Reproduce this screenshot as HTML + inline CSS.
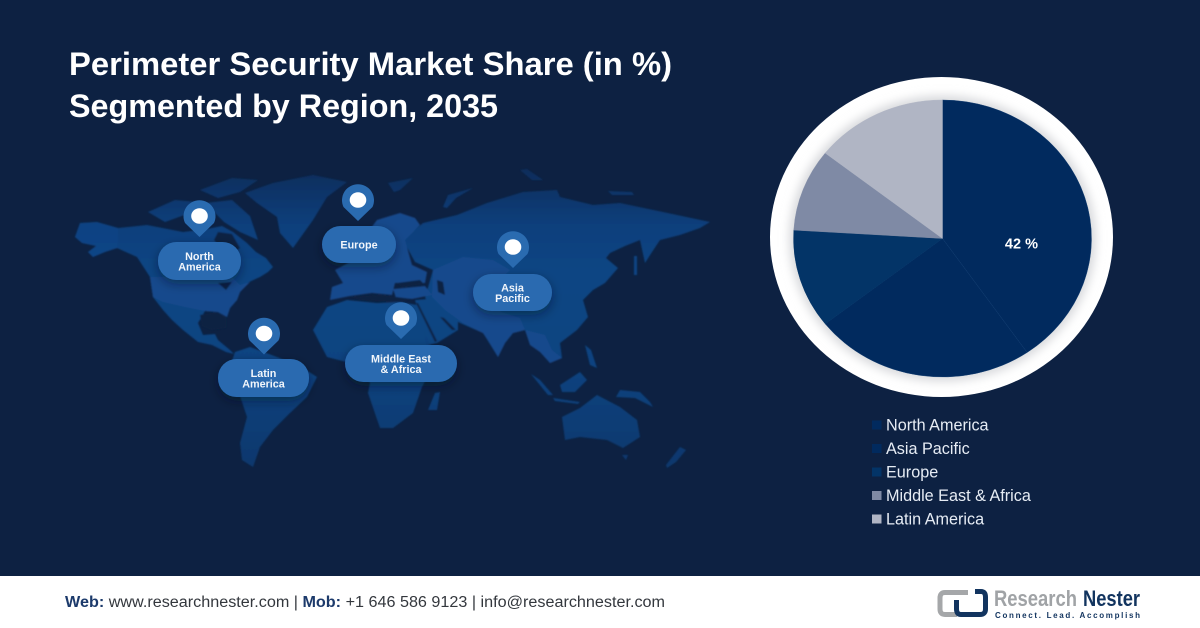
<!DOCTYPE html>
<html lang="en">
<head>
<meta charset="utf-8">
<title>Perimeter Security Market Share</title>
<style>
html,body{margin:0;padding:0;background:#0d2142;}
svg{display:block;font-family:"Liberation Sans",sans-serif;}
</style>
</head>
<body>
<svg id="root" width="1200" height="628" viewBox="0 0 1200 628" xmlns="http://www.w3.org/2000/svg">
<defs>
<linearGradient id="landA" gradientUnits="userSpaceOnUse" x1="0" y1="165" x2="0" y2="470">
<stop offset="0" stop-color="#0c2b58"/><stop offset="0.2" stop-color="#0c3f7c"/><stop offset="0.35" stop-color="#0b4583"/><stop offset="0.65" stop-color="#0b4380"/><stop offset="1" stop-color="#0c376c"/>
</linearGradient>
<filter id="soft" x="-5%" y="-5%" width="110%" height="110%"><feGaussianBlur stdDeviation="0.8"/></filter>
<filter id="shade" x="-20%" y="-20%" width="140%" height="140%"><feGaussianBlur stdDeviation="5"/></filter>
<filter id="pillShadow" x="-30%" y="-30%" width="160%" height="180%"><feDropShadow dx="0" dy="4" stdDeviation="5" flood-color="#071428" flood-opacity="0.45"/></filter>
</defs>

<rect width="1200" height="577" fill="#0d2142"/>

<g fill="#ffffff" font-weight="700" font-size="32">
<text x="69" y="75" textLength="603" lengthAdjust="spacingAndGlyphs">Perimeter Security Market Share (in %)</text>
<text x="69" y="117" textLength="429" lengthAdjust="spacingAndGlyphs">Segmented by Region, 2035</text>
</g>

<g filter="url(#soft)">
<g fill="url(#landA)">
<path d="M75 237 L80 223 L97 222 L118 228 L147 225 L183 232 L207 229 L222 226 L233 232 L247 243 L256 252 L266 258 L273 267 L268 272 L260 277 L247 283 L240 292 L237 300 L230 308 L227 317 L218 312 L205 311 L198 323 L203 335 L215 334 L218 340 L230 350 L234 354 L226 352 L212 345 L198 342 L183 330 L172 320 L163 310 L153 297 L150 277 L137 257 L117 248 L105 252 L93 257 L88 252 L96 246 L82 243 Z"/>
<path d="M245 193 L273 183 L313 175 L347 182 L327 197 L313 220 L293 248 L280 233 L277 217 L257 203 Z"/>
<path d="M200 190 L232 178 L258 180 L240 192 L218 198 Z"/>
<path d="M148 212 L175 200 L198 202 L190 213 L165 222 Z"/>
<path d="M205 203 L232 200 L250 216 L258 240 L240 232 L224 222 Z"/>
<path d="M235 352 L250 347 L277 357 L300 366 L317 377 L307 397 L290 413 L273 430 L260 447 L253 467 L242 460 L240 443 L247 417 L237 387 L230 367 Z"/>
<path d="M313 330 L327 307 L347 300 L377 303 L400 302 L417 305 L428 345 L445 350 L430 372 L422 387 L413 413 L393 428 L380 428 L368 393 L370 383 L358 365 L327 357 Z"/>
<path d="M428 410 L435 393 L440 392 L437 410 Z"/>
<path d="M415 300 L440 298 L458 318 L458 330 L437 343 L428 345 Z"/>
<path d="M403 240 L423 223 L457 215 L487 203 L523 192 L557 190 L560 197 L593 205 L620 203 L663 212 L710 222 L700 228 L680 235 L660 240 L652 252 L645 263 L640 240 L625 246 L610 253 L606 258 L618 268 L605 283 L593 290 L583 300 L588 317 L577 330 L560 343 L562 358 L550 363 L537 347 L525 330 L513 333 L505 343 L498 357 L483 333 L460 323 L440 310 L425 298 L433 270 L415 262 Z"/>
<path d="M562 417 L580 408 L597 395 L620 407 L637 420 L640 437 L623 448 L607 440 L580 437 L565 440 Z"/>
<path d="M634 256 L637 256 L637 275 L634 275 Z"/>
<path d="M585 345 L591 350 L597 368 L590 365 Z"/>
<path d="M560 385 L580 372 L587 380 L575 392 L562 392 Z"/>
<path d="M531 374 L540 380 L553 395 L548 395 Z"/>
<path d="M553 398 L580 402 L578 404 L555 401 Z"/>
<path d="M620 390 L640 392 L650 402 L653 407 L635 398 L616 397 Z"/>
<path d="M680 447 L686 450 L676 462 L667 468 L666 465 Z"/>
<path d="M622 455 L628 455 L626 460 Z"/>
<path d="M388 183 L413 178 L400 190 L394 192 Z"/>
<path d="M443 207 L448 195 L473 188 L456 198 L447 208 Z"/>
<path d="M520 170 L527 169 L543 180 L532 180 Z"/>
<path d="M608 191 L632 192 L634 195 L612 195 Z"/>
</g>
<g fill="#18488c">
<path d="M150 277 L232 277 L240 285 L250 282 L240 292 L237 300 L230 308 L227 317 L218 312 L205 311 L185 307 L163 302 L153 297 Z"/>
<path d="M75 237 L80 223 L97 222 L118 228 L118 248 L105 252 L93 257 L88 252 L96 246 L82 243 Z" opacity="0.45"/>
<path d="M330 300 L332 287 L343 283 L335 270 L350 262 L372 250 L362 240 L377 220 L400 213 L415 218 L420 225 L405 240 L412 265 L427 272 L425 283 L395 283 L392 295 L372 293 L350 296 Z"/>
<path d="M393 289 L425 286 L432 295 L412 299 L396 298 Z"/>
<path d="M433 270 L463 257 L493 260 L510 270 L495 285 L505 300 L495 325 L483 333 L463 323 L445 310 L432 297 Z"/>
<path d="M478 315 L495 310 L520 318 L525 330 L513 333 L505 343 L498 357 L488 340 L483 333 Z"/>
<path d="M525 330 L545 335 L552 350 L562 358 L550 363 L540 352 L530 345 Z"/>
</g>
<g fill="#0d2142">
<path d="M218 232 L232 234 L240 248 L232 254 L222 250 L214 240 Z"/>
<path d="M200 315 L218 312 L226 318 L226 328 L212 330 L202 326 Z"/>
<path d="M437 280 L443 282 L445 295 L438 292 Z"/>
<path d="M397 283 L420 280 L424 284 L402 287 Z"/>
<path d="M350 297 L380 295 L412 299 L400 302 L360 300 Z"/>
<path d="M416 303 L418 303 L437 341 L435 342 Z"/>
<path d="M440 317 L444 318 L456 330 L452 330 Z"/>
<path d="M218 283 L232 282 L226 290 Z"/>
</g>
</g>

<g id="markers"></g>

<g id="pie"></g>
<g id="legend"></g>

<g>
<rect y="576" width="1200" height="52" fill="#ffffff"/>
<text x="65" y="607" font-size="15.5" fill="#33373d" textLength="600" lengthAdjust="spacingAndGlyphs"><tspan font-weight="700" fill="#1c3a6b">Web:</tspan> www.researchnester.com | <tspan font-weight="700" fill="#1c3a6b">Mob:</tspan> +1 646 586 9123 | info@researchnester.com</text>
<g>
<path d="M968 592.5 L945 592.5 Q940 592.5 940 598 L940 609 Q940 614.5 945 614.5 L957 614.5" fill="none" stroke="#a5a7a9" stroke-width="5"/>
<path d="M975 591.5 L981 591.5 Q985.5 591.5 985.5 597 L985.5 609 Q985.5 614.5 980 614.5 L961 614.5 Q956.5 614.5 956.5 609 L956.5 600" fill="none" stroke="#12345f" stroke-width="5"/>
<text x="994" y="606" font-size="22" font-weight="700" fill="#a0a3a6" textLength="83" lengthAdjust="spacingAndGlyphs">Research</text>
<text x="1083" y="606" font-size="22" font-weight="700" fill="#12345f" textLength="57" lengthAdjust="spacingAndGlyphs">Nester</text>
<text x="995" y="618" font-size="8" font-weight="700" fill="#12345f" textLength="145">Connect. Lead. Accomplish</text>
</g>
</g>
</svg>

<script>
const regionCategories = ['North America', 'Asia Pacific', 'Europe', 'Middle East & Africa', 'Latin America'];
const shareValues = [42, 25, 12, 10, 15];
const printedShares = ['42 %', '', '', '', ''];
const sliceColors = ['#012a5e', '#012a5e', '#033467', '#7f8aa5', '#b0b5c4'];

const NS = 'http://www.w3.org/2000/svg';
function make(tag, parent) {
  const el = document.createElementNS(NS, tag);
  parent.appendChild(el);
  return el;
}

/* Pie axis functions: the slices are drawn on a slightly stretched ellipse */
const pieCx = 942.5, pieCy = 238.5, pieRx = 149, pieRy = 138.5;
const shareTotal = shareValues.reduce((a, b) => a + b, 0);
function angleOf(v) { return v / shareTotal * Math.PI * 2; }
function px(a, k) { return pieCx + pieRx * k * Math.sin(a); }
function py(a, k) { return pieCy - pieRy * k * Math.cos(a); }

const pie = document.getElementById('pie');

const ring = make('ellipse', pie);


ring.setAttribute('cx', 941.5);
ring.setAttribute('cy', 237);
ring.setAttribute('rx', 171.5);
ring.setAttribute('ry', 160);
ring.setAttribute('fill', '#ffffff');

const ringShade = make('ellipse', pie);


ringShade.setAttribute('cx', pieCx);
ringShade.setAttribute('cy', pieCy);
ringShade.setAttribute('rx', pieRx + 4);
ringShade.setAttribute('ry', pieRy + 4);
ringShade.setAttribute('fill', '#d6d7da');
ringShade.setAttribute('filter', 'url(#shade)');

let running = 0;
shareValues.forEach(function (v, i) {
  const a0 = angleOf(running);
  const a1 = angleOf(running + v);
  running += v;
  const large = a1 - a0 > Math.PI ? 1 : 0;
  const slice = make('path', pie);
  
  
  slice.setAttribute('d', 'M' + pieCx + ' ' + pieCy + ' L' + px(a0, 1) + ' ' + py(a0, 1) +
    ' A' + pieRx + ' ' + pieRy + ' 0 ' + large + ' 1 ' + px(a1, 1) + ' ' + py(a1, 1) + ' Z');
  slice.setAttribute('fill', sliceColors[i]);
  slice.setAttribute('stroke', i < 2 ? '#123d72' : sliceColors[i]);
  slice.setAttribute('stroke-width', '0.4');
  if (printedShares[i]) {
    const mid = (a0 + a1) / 2;
    const label = make('text', pie);
    
    
    label.setAttribute('x', px(mid, 0.555));
    label.setAttribute('y', pieCy + 10);
    label.setAttribute('text-anchor', 'middle');
    label.setAttribute('font-size', '14.5');
    label.setAttribute('font-weight', '700');
    label.setAttribute('fill', '#ffffff');
    label.textContent = printedShares[i];
  }
});

/* Legend */
const legend = document.getElementById('legend');
const legendTop = 425, legendStep = 23.5;
regionCategories.forEach(function (name, i) {
  const y = legendTop + i * legendStep;
  const sw = make('rect', legend);
  
  
  sw.setAttribute('x', 872);
  sw.setAttribute('y', y - 4.5);
  sw.setAttribute('width', 9.5);
  sw.setAttribute('height', 9);
  sw.setAttribute('fill', sliceColors[i]);
  const tx = make('text', legend);
  
  
  tx.setAttribute('x', 886);
  tx.setAttribute('y', y + 5.5);
  tx.setAttribute('font-size', '16.2');
  tx.setAttribute('fill', '#e6ecf4');
  tx.textContent = name;
});

/* Map markers */
const markerLines = [['North', 'America'], ['Europe'], ['Asia', 'Pacific'], ['Latin', 'America'], ['Middle East', '& Africa']];
const markerPinX = [199.5, 358, 513, 264, 401];
const markerPinY = [216, 200, 247, 333.5, 318];
const markerPillLeft = [158, 322, 473, 218, 345];
const markerPillRight = [241, 396, 552, 309, 457];
const markerPillTop = [242, 226, 274, 359, 345];
const markerPillBottom = [280, 263, 311, 397, 382];
const markers = document.getElementById('markers');

markerLines.forEach(function (lines, i) {
  const x = markerPinX[i], y = markerPinY[i];
  const pill = make('rect', markers);
  
  
  pill.setAttribute('x', markerPillLeft[i]);
  pill.setAttribute('y', markerPillTop[i]);
  pill.setAttribute('width', markerPillRight[i] - markerPillLeft[i]);
  pill.setAttribute('height', markerPillBottom[i] - markerPillTop[i]);
  pill.setAttribute('rx', 18.5);
  pill.setAttribute('fill', '#2a6bb0');
  pill.setAttribute('filter', 'url(#pillShadow)');

  const pin = make('path', markers);
  
  
  pin.setAttribute('d', 'M' + (x - 14.5) + ' ' + (y + 7) + ' A16 16 0 1 1 ' + (x + 14.5) + ' ' + (y + 7) +
    ' L' + x + ' ' + (y + 21) + ' Z');
  pin.setAttribute('fill', '#2a6bb0');

  const dot = make('ellipse', markers);
  
  
  dot.setAttribute('cx', x);
  dot.setAttribute('cy', y);
  dot.setAttribute('rx', 8.3);
  dot.setAttribute('ry', 7.8);
  dot.setAttribute('fill', '#ffffff');

  const cy = (markerPillTop[i] + markerPillBottom[i]) / 2;
  lines.forEach(function (line, k) {
    const t = make('text', markers);
    
    
    t.setAttribute('x', (markerPillLeft[i] + markerPillRight[i]) / 2);
    t.setAttribute('y', cy + 4 + (k - (lines.length - 1) / 2) * 10.5);
    t.setAttribute('text-anchor', 'middle');
    t.setAttribute('font-size', '10.8');
    t.setAttribute('font-weight', '700');
    t.setAttribute('fill', '#f2f6fb');
    t.textContent = line;
  });
});
</script>
</body>
</html>
